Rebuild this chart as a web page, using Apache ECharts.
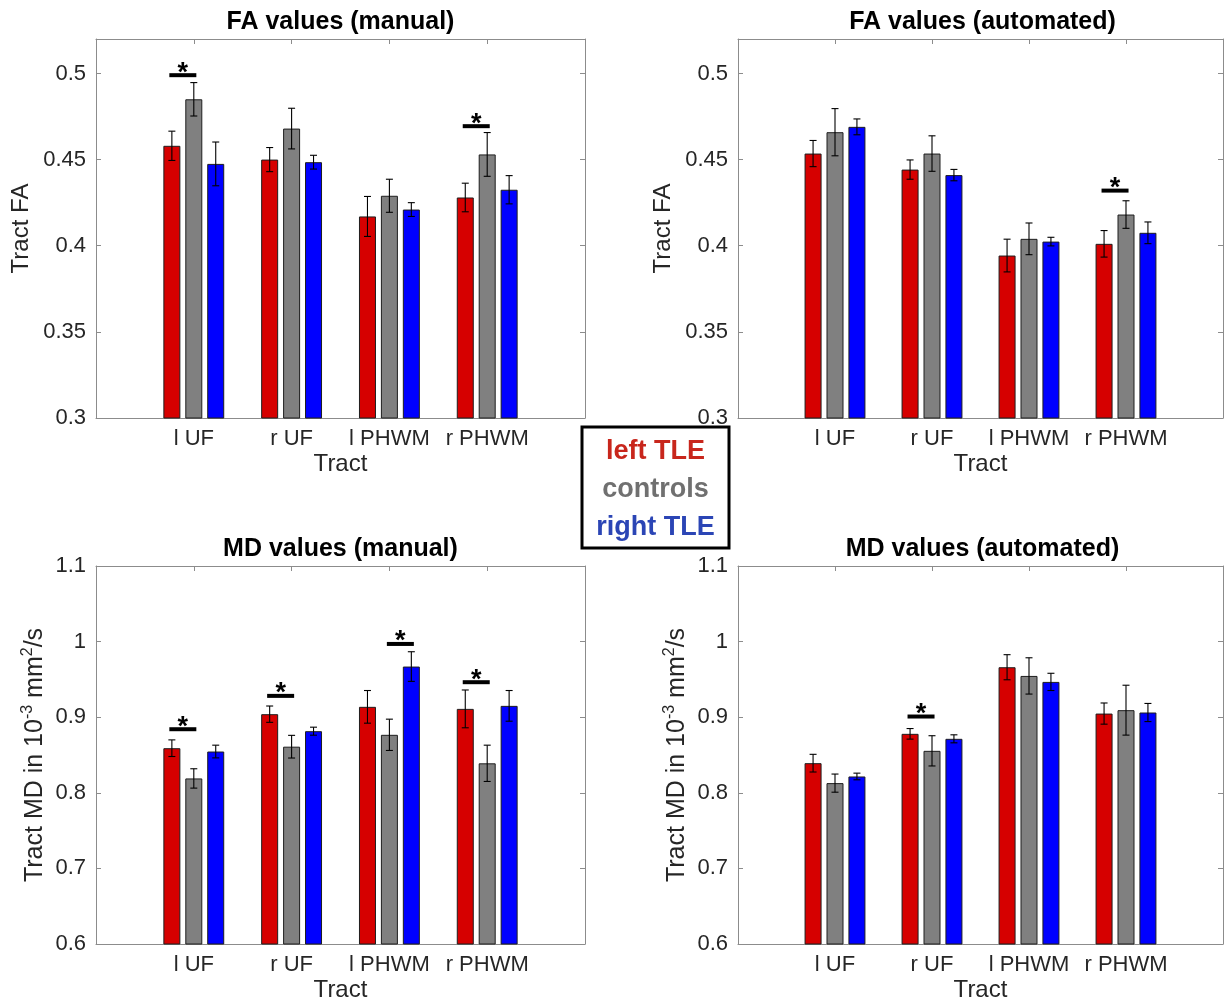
<!DOCTYPE html>
<html>
<head>
<meta charset="utf-8">
<script src="https://cdn.jsdelivr.net/npm/echarts@6/dist/echarts.min.js"></script>
<style>
html,body{margin:0;padding:0;background:#fff;}
#c{width:1226px;height:1005px;}
</style>
</head>
<body>
<div id="c"></div>
<script>
// ---------- data ----------
const categories = ['l UF', 'r UF', 'l PHWM', 'r PHWM'];
const groupNames = ['left TLE', 'controls', 'right TLE'];

// FA values (manual)
const faManualLeft  = [0.458, 0.450, 0.417, 0.428];
const faManualCtrl  = [0.485, 0.468, 0.429, 0.453];
const faManualRight = [0.4475, 0.4485, 0.421, 0.4325];
const faManualLeftErr  = [0.0085, 0.007, 0.0116, 0.0083];
const faManualCtrlErr  = [0.0097, 0.0118, 0.0096, 0.0127];
const faManualRightErr = [0.0127, 0.004, 0.004, 0.0082];
const faManualSig = [[1, 0.499, -0.5], [4, 0.4694, -0.5]];

// FA values (automated)
const faAutoLeft  = [0.4535, 0.4442, 0.3943, 0.4011];
const faAutoCtrl  = [0.4659, 0.4535, 0.404, 0.4181];
const faAutoRight = [0.469, 0.441, 0.4024, 0.4075];
const faAutoLeftErr  = [0.0076, 0.0056, 0.0095, 0.0077];
const faAutoCtrlErr  = [0.0137, 0.0103, 0.0092, 0.008];
const faAutoRightErr = [0.0046, 0.0033, 0.0025, 0.0063];
const faAutoSig = [[4, 0.432, -0.5]];

// MD values (manual)
const mdManualLeft  = [0.859, 0.904, 0.9137, 0.911];
const mdManualCtrl  = [0.819, 0.861, 0.8767, 0.839];
const mdManualRight = [0.8546, 0.8815, 0.967, 0.915];
const mdManualLeftErr  = [0.011, 0.0108, 0.0216, 0.025];
const mdManualCtrlErr  = [0.0128, 0.015, 0.0207, 0.024];
const mdManualRightErr = [0.0084, 0.0053, 0.0196, 0.0203];
const mdManualSig = [[1, 0.8841, -0.5], [2, 0.9282, -0.5], [3, 0.9969, 0.5], [4, 0.9463, -0.5]];

// MD values (automated)
const mdAutoLeft  = [0.8392, 0.878, 0.9661, 0.9048];
const mdAutoCtrl  = [0.8128, 0.8555, 0.9546, 0.9093];
const mdAutoRight = [0.8216, 0.8714, 0.9467, 0.9062];
const mdAutoLeftErr  = [0.0117, 0.007, 0.0166, 0.014];
const mdAutoCtrlErr  = [0.012, 0.02, 0.024, 0.033];
const mdAutoRightErr = [0.0044, 0.0053, 0.0114, 0.012];
const mdAutoSig = [[2, 0.9009, -0.5]];

// ---------- styles / layout ----------
const FONT = "'Liberation Sans', Arial, Helvetica, sans-serif";
const colors = ['#d60000', '#808080', '#0000ff'];
const legendColors = ['#c8261c', '#707070', '#2b45b5'];
const BAR_W = 17;
const BAR_GAP = 0.29;
const SPACING = BAR_W * (1 + BAR_GAP);
const AXIS_COLOR = '#8c8c8c';
const TEXT_COLOR = '#262626';

const panels = [
  { title: 'FA values (manual)', left: 96, top: 39, width: 489, height: 379, titleY: 22,
    min: 0.3, max: 0.52, interval: 0.05, yName: 'Tract FA', nameGap: 60,
    vals: [faManualLeft, faManualCtrl, faManualRight],
    errs: [faManualLeftErr, faManualCtrlErr, faManualRightErr], sig: faManualSig },
  { title: 'FA values (automated)', left: 738, top: 39, width: 487, height: 379, titleY: 22,
    min: 0.3, max: 0.52, interval: 0.05, yName: 'Tract FA', nameGap: 60,
    vals: [faAutoLeft, faAutoCtrl, faAutoRight],
    errs: [faAutoLeftErr, faAutoCtrlErr, faAutoRightErr], sig: faAutoSig },
  { title: 'MD values (manual)', left: 96, top: 566, width: 489, height: 378, titleY: 549,
    min: 0.6, max: 1.1, interval: 0.1, yName: 'Tract MD in 10{sup|-3} mm{sup|2}/s', nameGap: 46,
    vals: [mdManualLeft, mdManualCtrl, mdManualRight],
    errs: [mdManualLeftErr, mdManualCtrlErr, mdManualRightErr], sig: mdManualSig },
  { title: 'MD values (automated)', left: 738, top: 566, width: 487, height: 378, titleY: 549,
    min: 0.6, max: 1.1, interval: 0.1, yName: 'Tract MD in 10{sup|-3} mm{sup|2}/s', nameGap: 46,
    vals: [mdAutoLeft, mdAutoCtrl, mdAutoRight],
    errs: [mdAutoLeftErr, mdAutoCtrlErr, mdAutoRightErr], sig: mdAutoSig }
];

const axisCats = [''].concat(categories, ['']);

const grid = [], xAxis = [], yAxis = [], series = [], graphic = [];

panels.forEach((p, pi) => {
  grid.push({ left: p.left, top: p.top, width: p.width, height: p.height, containLabel: false });
  const tick = { show: true, inside: true, length: 5, interval: 0, lineStyle: { color: AXIS_COLOR } };
  const line = { show: true, onZero: false, lineStyle: { color: AXIS_COLOR, width: 1 } };
  xAxis.push({
    type: 'category', gridIndex: pi, data: axisCats, boundaryGap: false, position: 'bottom',
    axisLine: line, axisTick: tick,
    axisLabel: { interval: 0, fontSize: 22, color: TEXT_COLOR, margin: 10, fontFamily: FONT },
    name: 'Tract', nameLocation: 'middle', nameGap: 34,
    nameTextStyle: { fontSize: 24, color: TEXT_COLOR, fontFamily: FONT },
    splitLine: { show: false }
  });
  xAxis.push({
    type: 'category', gridIndex: pi, data: axisCats, boundaryGap: false, position: 'top',
    axisLine: line, axisTick: tick, axisLabel: { show: false }, splitLine: { show: false }
  });
  yAxis.push({
    type: 'value', gridIndex: pi, min: p.min, max: p.max, interval: p.interval, position: 'left',
    axisLine: line, axisTick: tick,
    axisLabel: { fontSize: 22, color: TEXT_COLOR, margin: 10, fontFamily: FONT, showMaxLabel: p.max === 1.1 },
    splitLine: { show: false },
    name: p.yName, nameLocation: 'middle', nameGap: p.nameGap, nameRotate: 90,
    nameTextStyle: { fontSize: p.max === 1.1 ? 25 : 24, color: TEXT_COLOR, fontFamily: FONT, lineHeight: 30,
      rich: { sup: { fontSize: 16, color: TEXT_COLOR, fontFamily: FONT, verticalAlign: 'top', lineHeight: 16 } } }
  });
  yAxis.push({
    type: 'value', gridIndex: pi, min: p.min, max: p.max, interval: p.interval, position: 'right',
    axisLine: line, axisTick: tick, axisLabel: { show: false }, splitLine: { show: false }
  });

  // bars
  p.vals.forEach((vals, g) => {
    series.push({
      type: 'bar', name: groupNames[g], xAxisIndex: 2 * pi, yAxisIndex: 2 * pi,
      barWidth: BAR_W, barGap: (BAR_GAP * 100) + '%', silent: true,
      itemStyle: { color: colors[g], borderColor: '#1e1e1e', borderWidth: 1 },
      data: vals.map((v, i) => [i + 1, v]), z: 2
    });
  });
  // error bars
  p.vals.forEach((vals, g) => {
    const off = (g - 1) * SPACING;
    const errs = p.errs[g];
    series.push({
      type: 'custom', name: groupNames[g] + ' error', xAxisIndex: 2 * pi, yAxisIndex: 2 * pi,
      silent: true, z: 5,
      encode: { x: 0, y: 1 },
      data: vals.map((v, i) => [i + 1, v, errs[i]]),
      renderItem: (params, api) => {
        const c = api.value(0), v = api.value(1), e = api.value(2);
        const x = api.coord([c, v])[0] + off;
        const yHi = api.coord([c, v + e])[1];
        const yLo = api.coord([c, v - e])[1];
        const st = { stroke: '#000', lineWidth: 1.1 };
        return { type: 'group', children: [
          { type: 'line', shape: { x1: x, y1: yHi, x2: x, y2: yLo }, style: st },
          { type: 'line', shape: { x1: x - 3.5, y1: yHi, x2: x + 3.5, y2: yHi }, style: st },
          { type: 'line', shape: { x1: x - 3.5, y1: yLo, x2: x + 3.5, y2: yLo }, style: st }
        ] };
      }
    });
  });
  // significance markers
  series.push({
    type: 'custom', name: 'significance', xAxisIndex: 2 * pi, yAxisIndex: 2 * pi,
    silent: true, z: 6, encode: { x: 0, y: 1 },
    data: p.sig,
    renderItem: (params, api) => {
      const c = api.value(0), y = api.value(1), side = api.value(2);
      const pt = api.coord([c, y]);
      const mx = pt[0] + side * SPACING;
      return { type: 'group', children: [
        { type: 'line', shape: { x1: mx - 13.5, y1: pt[1], x2: mx + 13.5, y2: pt[1] },
          style: { stroke: '#000', lineWidth: 4 } },
        { type: 'text', style: { text: '*', x: mx, y: pt[1] - 2, fill: '#000',
          font: 'bold 27px ' + FONT, align: 'center', verticalAlign: 'middle' } }
      ] };
    }
  });

  // title
  graphic.push({
    type: 'text', x: p.left + 489 / 2, y: p.titleY, silent: true,
    style: { text: p.title, fill: '#000', font: 'bold 25px ' + FONT, align: 'center', verticalAlign: 'middle' }
  });
});

// legend box
graphic.push({
  type: 'rect', x: 582, y: 427, silent: true, z: 10,
  shape: { x: 0, y: 0, width: 147, height: 121 },
  style: { fill: '#fff', stroke: '#000', lineWidth: 3 }
});
groupNames.forEach((n, g) => {
  graphic.push({
    type: 'text', x: 655.5, y: 452 + g * 38, silent: true, z: 11,
    style: { text: n, fill: legendColors[g], font: 'bold 27px ' + FONT, align: 'center', verticalAlign: 'middle' }
  });
});

const chart = echarts.init(document.getElementById('c'), null, { renderer: 'canvas' });
chart.setOption({
  animation: false,
  backgroundColor: '#fff',
  textStyle: { fontFamily: FONT },
  grid, xAxis, yAxis, series, graphic
});
</script>
</body>
</html>
